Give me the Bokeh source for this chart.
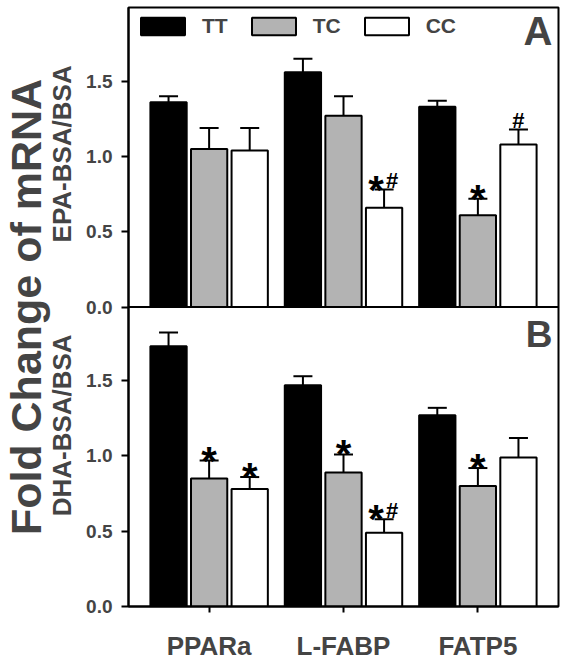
import numpy as np
from bokeh.plotting import figure
from bokeh.models import (ColumnDataSource, FactorRange, Range1d, FixedTicker,
                          CustomJSTickFormatter, Whisker, TeeHead, Legend, LegendItem,
                          Label, Span)
from bokeh.transform import dodge
from bokeh.layouts import row
from bokeh.core.properties import value
from bokeh.embed import file_html
from bokeh.resources import INLINE

# ---------------- data ----------------
genes = ["PPARa", "L-FABP", "FATP5"]
genotypes = ["TT", "TC", "CC"]

epa_TT = [1.36, 1.56, 1.33]
epa_TC = [1.05, 1.27, 0.61]
epa_CC = [1.04, 0.66, 1.08]
epa_TT_err = [0.04, 0.09, 0.04]
epa_TC_err = [0.14, 0.13, 0.11]
epa_CC_err = [0.15, 0.12, 0.10]

dha_TT = [1.73, 1.47, 1.27]
dha_TC = [0.85, 0.89, 0.80]
dha_CC = [0.78, 0.49, 0.99]
dha_TT_err = [0.09, 0.06, 0.05]
dha_TC_err = [0.12, 0.12, 0.12]
dha_CC_err = [0.08, 0.09, 0.13]

# significance marks: (gene, genotype)
epa_star = [("L-FABP", "CC"), ("FATP5", "TC")]
epa_hash = [("L-FABP", "CC"), ("FATP5", "CC")]
dha_star = [("PPARa", "TC"), ("PPARa", "CC"), ("L-FABP", "TC"), ("L-FABP", "CC"), ("FATP5", "TC")]
dha_hash = [("L-FABP", "CC")]

y_ticks = [0.0, 0.5, 1.0, 1.5]
y_max = 1.99   # each panel spans 0 .. y_max

# ---------------- style ----------------
FONT = "Liberation Sans"
fills = {"TT": "#000000", "TC": "#b3b3b3", "CC": "#ffffff"}
offsets = {"TT": -0.302, "TC": 0.0, "CC": 0.302}
W, H = 566, 663
LEFT_W = 78

# one frame holding both panels: panel B on the default range (lower half),
# panel A on its own range "A" (upper half)
p = figure(x_range=FactorRange(*genes, range_padding=0.2 / 3),
           y_range=Range1d(0, 2 * y_max), width=W - LEFT_W, height=H,
           output_backend="svg", toolbar_location=None,
           min_border_left=50, min_border_right=8, min_border_top=7, min_border_bottom=55)
p.extra_y_ranges = {"A": Range1d(-y_max, y_max)}
p.grid.visible = False
p.outline_line_color = "black"
p.outline_line_width = 2


def draw_panel(rng, vals, errs, stars, hashes):
    data = dict(gene=genes)
    for g in genotypes:
        data[g] = vals[g]
        data[g + "_up"] = [v + e for v, e in zip(vals[g], errs[g])]
    src = ColumnDataSource(data)
    items = []
    for g in genotypes:
        r = p.vbar(x=dodge("gene", offsets[g], range=p.x_range), top=g, width=0.27,
                   source=src, fill_color=fills[g], line_color="black", line_width=2,
                   y_range_name=rng)
        items.append(LegendItem(label=g, renderers=[r]))
        p.add_layout(Whisker(base=dodge("gene", offsets[g], range=p.x_range), lower=g,
                             upper=g + "_up", source=src, dimension="height",
                             line_color="black", line_width=2, y_range_name=rng,
                             upper_head=TeeHead(size=19, line_width=2, line_color="black"),
                             lower_head=None))
    for g in genotypes:
        s_genes = [n for n, gt in stars if gt == g]
        h_genes = [n for n, gt in hashes if gt == g]
        for sym, glist, size, other, sgn, yoff in (("*", s_genes, "40px", h_genes, -1, 0),
                                                    ("#", h_genes, "22px", s_genes, 1, -9)):
            if not glist:
                continue
            ups = [data[g + "_up"][genes.index(n)] for n in glist]
            xo = [sgn * 8 if n in other else 0 for n in glist]
            s = ColumnDataSource(dict(gene=glist, y=ups, xo=xo, t=[sym] * len(glist)))
            p.text(x=dodge("gene", offsets[g], range=p.x_range), y="y", text="t",
                   x_offset="xo", y_offset=yoff, source=s, y_range_name=rng,
                   text_font=value(FONT), text_font_style="bold", text_font_size=size,
                   text_align="center", text_baseline="alphabetic", text_color="black")
    return items


items = draw_panel("A", dict(TT=epa_TT, TC=epa_TC, CC=epa_CC),
                   dict(TT=epa_TT_err, TC=epa_TC_err, CC=epa_CC_err), epa_star, epa_hash)
draw_panel("default", dict(TT=dha_TT, TC=dha_TC, CC=dha_CC),
           dict(TT=dha_TT_err, TC=dha_TC_err, CC=dha_CC_err), dha_star, dha_hash)

# divider between the panels (zero line of panel A)
p.add_layout(Span(location=0, dimension="width", line_color="black", line_width=2,
                  y_range_name="A"))

# left axis: ticks of panel B and of panel A (panel A zero sits at y_max)
ax = p.yaxis[0]
ax.ticker = FixedTicker(ticks=y_ticks + [y_max + t for t in y_ticks])
ax.formatter = CustomJSTickFormatter(
    args=dict(off=y_max),
    code="const v = tick >= off - 1e-6 ? tick - off : tick; return v.toFixed(1);")
ax.major_label_text_font = FONT
ax.major_label_text_font_size = "19px"
ax.major_label_text_font_style = "bold"
ax.major_label_standoff = 9
ax.major_tick_out = 7
ax.major_tick_in = 0
ax.minor_tick_line_color = None
ax.axis_line_width = 2
ax.major_tick_line_width = 2

xa = p.xaxis[0]
xa.major_label_text_font = FONT
xa.major_label_text_font_size = "26px"
xa.major_label_text_font_style = "bold"
xa.major_label_standoff = 18
xa.major_tick_out = 6
xa.major_tick_in = 0
xa.axis_line_width = 2
xa.major_tick_line_width = 2

leg = Legend(items=items, location="top_left", orientation="horizontal",
             glyph_width=55, glyph_height=22, label_standoff=12, spacing=18,
             padding=0, margin=7, border_line_alpha=0, background_fill_alpha=0,
             label_text_font=FONT, label_text_font_size="21px",
             label_text_font_style="bold", label_height=22)
p.add_layout(leg)

# panel letters (screen units, relative to the plot frame)
for txt, yy, fs in (("A", 576, "40px"), ("B", 271.6, "37px")):
    p.add_layout(Label(x=424, y=yy, x_units="screen", y_units="screen", text=txt,
                       text_align="right", text_baseline="alphabetic", text_font=FONT,
                       text_font_size=fs, text_font_style="bold"))

# left strip with the shared and the per-panel y titles (page coordinates)
left = figure(width=LEFT_W, height=H, x_range=Range1d(0, LEFT_W), y_range=Range1d(H, 0),
              output_backend="svg", toolbar_location=None,
              x_axis_location=None, y_axis_location=None, min_border=0,
              outline_line_color=None)
left.grid.visible = False
for txt, xx, yy, fs in (("Fold Change of mRNA", 25, 331.5, "43px"),
                        ("EPA-BSA/BSA", 61.6, 162, "26px"),
                        ("DHA-BSA/BSA", 61.6, 462.5, "26px")):
    left.add_layout(Label(x=xx, y=yy, text=txt, angle=np.pi / 2,
                          text_align="center", text_baseline="alphabetic", text_font=FONT,
                          text_font_size=fs, text_font_style="bold"))

layout = row(left, p)
open("out.html", "w").write(file_html(layout, INLINE))
